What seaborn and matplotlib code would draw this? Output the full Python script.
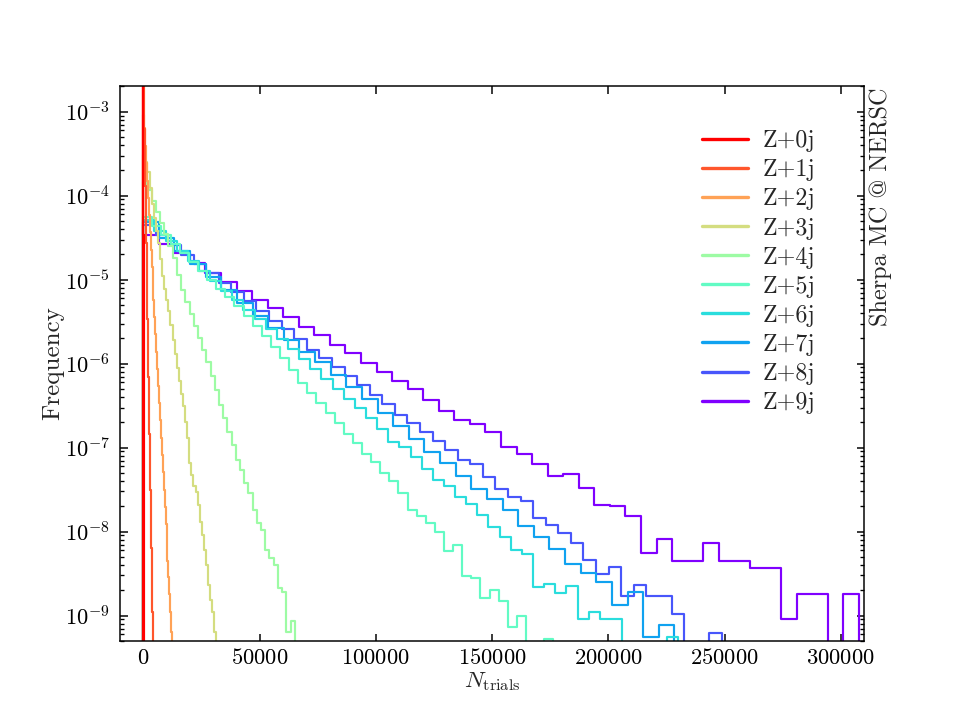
import numpy as np
import pandas as pd
import seaborn as sns
import matplotlib.pyplot as plt
from matplotlib.lines import Line2D
from matplotlib.ticker import MultipleLocator, NullLocator, ScalarFormatter

labels = ["Z+0j", "Z+1j", "Z+2j", "Z+3j", "Z+4j", "Z+5j", "Z+6j", "Z+7j", "Z+8j", "Z+9j"]

# bin width (in N_trials) of each histogram, bins start at 0
bin_width = [10, 140, 400, 900, 1810, 3920, 4790, 6720, 5410, 6690]

# normalised frequency per bin
z0j = [5.2e-2, 2.5e-2, 1.2e-2, 5.8e-3, 2.8e-3, 1.3e-3, 6.4e-4, 3.1e-4, 1.5e-4, 7.1e-5,
       3.4e-5, 1.6e-5, 7.8e-6, 3.8e-6, 1.8e-6, 8.7e-7, 4.2e-7, 2.0e-7, 9.6e-8, 4.6e-8,
       2.2e-8, 1.06e-8, 5.1e-9, 2.4e-9, 1.2e-9, 5.6e-10]
z1j = [3.0e-3, 1.8e-3, 1.06e-3, 6.3e-4, 3.7e-4, 2.2e-4, 1.3e-4, 7.8e-5, 4.6e-5, 2.7e-5,
       1.6e-5, 9.6e-6, 5.7e-6, 3.4e-6, 2.0e-6, 1.2e-6, 7.0e-7, 4.2e-7, 2.5e-7, 1.47e-7,
       8.7e-8, 5.2e-8, 3.1e-8, 1.8e-8, 1.07e-8, 6.4e-9, 3.8e-9, 2.5e-9, 1.1e-9, 7.8e-10]
z2j = [9.2e-4, 6.4e-4, 3.9e-4, 2.45e-4, 1.49e-4, 9.4e-5, 5.9e-5, 3.68e-5, 2.25e-5, 1.41e-5,
       8.8e-6, 5.7e-6, 3.57e-6, 2.24e-6, 1.37e-6, 8.6e-7, 5.4e-7, 3.37e-7, 2.12e-7, 1.29e-7,
       8.1e-8, 5.1e-8, 3.1e-8, 1.94e-8, 1.22e-8, 7.4e-9, 4.5e-9, 2.85e-9, 1.78e-9, 1.09e-9,
       6.3e-10]
z3j = [3.05e-4, 2.52e-4, 1.91e-4, 1.23e-4, 7.94e-5, 5.41e-5, 3.79e-5, 2.72e-5, 1.76e-5, 1.10e-5,
       7.7e-6, 5.7e-6, 4.21e-6, 2.87e-6, 1.90e-6, 1.29e-6, 8.8e-7, 6.2e-7, 4.4e-7, 3.1e-7,
       2.0e-7, 1.29e-7, 6.5e-8, 4.7e-8, 3.46e-8, 2.93e-8, 2.05e-8, 1.29e-8, 9.0e-9, 6.0e-9,
       3.95e-9, 2.28e-9, 1.51e-9, 1.09e-9, 6.3e-10]
z4j = [1.45e-4, 1.17e-4, 8.6e-5, 6.4e-5, 4.7e-5, 3.49e-5, 2.51e-5, 1.8e-5, 1.13e-5, 7.5e-6,
       5.4e-6, 3.88e-6, 2.79e-6, 2.01e-6, 1.44e-6, 1.04e-6, 7.1e-7, 4.8e-7, 3.19e-7, 2.24e-7,
       1.52e-7, 1.07e-7, 7.1e-8, 5.4e-8, 3.75e-8, 2.85e-8, 1.79e-8, 1.25e-8, 1.03e-8, 6.0e-9,
       4.9e-9, 3.95e-9, 2.1e-9, 1.89e-9, 6.3e-10, 8.7e-10]
z5j = [5.56e-5, 4.34e-5, 3.39e-5, 2.65e-5, 2.07e-5, 1.62e-5, 1.26e-5, 9.9e-6, 7.8e-6, 6.2e-6,
       4.83e-6, 3.67e-6, 2.79e-6, 2.12e-6, 1.57e-6, 1.16e-6, 8.3e-7, 5.8e-7, 4.48e-7, 3.4e-7,
       2.58e-7, 1.96e-7, 1.47e-7, 1.12e-7, 8.5e-8, 6.7e-8, 4.98e-8, 3.96e-8, 2.87e-8, 1.79e-8,
       1.52e-8, 1.28e-8, 9.9e-9, 5.86e-9, 6.98e-9, 2.92e-9, 2.82e-9, 1.63e-9, 1.99e-9, 1.49e-9,
       7.4e-10, 1.0e-9, 0, 0, 5.2e-10]
z6j = [5.12e-5, 3.84e-5, 2.88e-5, 2.19e-5, 1.66e-5, 1.26e-5, 9.6e-6, 7.4e-6, 5.7e-6, 4.39e-6,
       3.38e-6, 2.57e-6, 1.98e-6, 1.51e-6, 1.15e-6, 8.7e-7, 6.6e-7, 5.05e-7, 3.84e-7, 2.97e-7,
       2.22e-7, 1.68e-7, 1.17e-7, 1.02e-7, 7.7e-8, 5.6e-8, 4.16e-8, 3.46e-8, 2.58e-8, 2.15e-8,
       1.56e-8, 1.13e-8, 8.6e-9, 5.97e-9, 5.35e-9, 2.18e-9, 2.39e-9, 1.85e-9, 2.22e-9, 9.2e-10,
       1.1e-9, 9.2e-10, 9.2e-10, 0, 0, 0, 0, 5.5e-10]
z7j = [4.84e-5, 3.13e-5, 2.19e-5, 1.53e-5, 1.07e-5, 7.5e-6, 5.25e-6, 3.67e-6, 2.64e-6, 1.9e-6,
       1.38e-6, 1.04e-6, 7.3e-7, 5.2e-7, 3.77e-7, 2.57e-7, 1.79e-7, 1.25e-7, 8.9e-8, 6.56e-8,
       4.55e-8, 3.24e-8, 2.47e-8, 1.79e-8, 1.15e-8, 8.6e-9, 6.25e-9, 4.14e-9, 3.2e-9, 2.5e-9,
       1.35e-9, 1.9e-9, 5.5e-10, 7.8e-10]
z8j = [4.47e-5, 3.39e-5, 2.58e-5, 1.96e-5, 1.53e-5, 1.19e-5, 9.1e-6, 7.1e-6, 5.5e-6, 4.25e-6,
       3.23e-6, 2.55e-6, 1.94e-6, 1.47e-6, 1.18e-6, 9.0e-7, 7.1e-7, 5.5e-7, 4.2e-7, 3.28e-7,
       2.47e-7, 1.96e-7, 1.53e-7, 1.2e-7, 9.3e-8, 7.2e-8, 6.4e-8, 4.47e-8, 3.21e-8, 2.58e-8,
       2.31e-8, 1.44e-8, 1.2e-8, 9.6e-9, 7.3e-9, 4.6e-9, 3.15e-9, 3.78e-9, 1.69e-9, 2.3e-9,
       1.69e-9, 1.69e-9, 1.05e-9, 0, 0, 6.2e-10]
z9j = [3.39e-5, 2.65e-5, 2.07e-5, 1.57e-5, 1.21e-5, 9.4e-6, 7.4e-6, 5.7e-6, 4.54e-6, 3.6e-6,
       2.73e-6, 2.18e-6, 1.66e-6, 1.33e-6, 1.01e-6, 7.9e-7, 6.2e-7, 4.95e-7, 3.69e-7, 2.73e-7,
       2.11e-7, 1.93e-7, 1.53e-7, 1.02e-7, 8.3e-8, 6.3e-8, 4.55e-8, 4.8e-8, 3.34e-8, 2.07e-8,
       2.0e-8, 1.55e-8, 5.5e-9, 8.1e-9, 4.5e-9, 4.5e-9, 7.3e-9, 4.5e-9, 4.5e-9, 3.64e-9,
       3.64e-9, 9.1e-10, 1.82e-9, 1.82e-9, 0, 1.82e-9]

heights = [z0j, z1j, z2j, z3j, z4j, z5j, z6j, z7j, z8j, z9j]
yticks = [1e-9, 1e-8, 1e-7, 1e-6, 1e-5, 1e-4, 1e-3]

sns.set_theme(style="ticks")
plt.rcParams.update({
    "font.family": "serif",
    "font.serif": ["cmr10", "DejaVu Serif"],
    "mathtext.fontset": "cm",
    "axes.unicode_minus": False,
    "axes.formatter.use_mathtext": True,
    "axes.linewidth": 0.9,
    "axes.edgecolor": "black",
    "xtick.color": "black",
    "ytick.color": "black",
})

fig, ax = plt.subplots(figsize=(8, 6), dpi=120)
fig.subplots_adjust(left=0.125, right=0.9, bottom=0.11, top=0.88)

colors = plt.cm.rainbow(np.linspace(1, 0, len(labels)))

# draw Z+9j first so the low multiplicities sit on top
for i in reversed(range(len(labels))):
    w = bin_width[i]
    h = np.concatenate([[0.0], heights[i], [0.0]])  # empty bins close the outline
    edges = (np.arange(len(h) + 1) - 1) * w
    df = pd.DataFrame({"ntrials": edges[:-1] + w / 2, "freq": h})
    sns.histplot(data=df, x="ntrials", weights="freq", bins=list(edges),
                 element="step", fill=False, color=colors[i], linewidth=1.3, ax=ax)

ax.set_yscale("log", nonpositive="clip")
ax.set_yticks(yticks)
ax.set_xlim(-10000, 310000)
ax.set_ylim(5e-10, 2e-3)

ax.xaxis.set_major_locator(MultipleLocator(50000))
fmt = ScalarFormatter(useMathText=True)
fmt.set_useOffset(False)
fmt.set_scientific(False)
ax.xaxis.set_major_formatter(fmt)
ax.xaxis.set_minor_locator(NullLocator())
ax.tick_params(which="both", direction="in", top=True, right=True, labelsize=13.5)
ax.tick_params(which="major", length=4.5, width=0.9)
ax.tick_params(which="minor", length=2.5, width=0.8)
ax.tick_params(axis="x", which="major", pad=4.5)
ax.tick_params(axis="y", which="major", pad=6)

ax.set_xlabel(r"$N_{\rm trials}$", fontsize=14, labelpad=1)
ax.set_ylabel("Frequency", fontsize=15, labelpad=0)

handles = [Line2D([], [], color=colors[i], lw=2) for i in range(len(labels))]
ax.legend(handles, labels, loc="upper right", bbox_to_anchor=(0.964, 0.96),
          frameon=False, fontsize=14.4, handlelength=1.9, handletextpad=0.62,
          labelspacing=0.29)

fig.text(0.917, 0.878, "Sherpa MC @ NERSC", rotation=90, ha="center", va="top",
         fontsize=14.5)

fig.savefig("out.png", dpi=120)
